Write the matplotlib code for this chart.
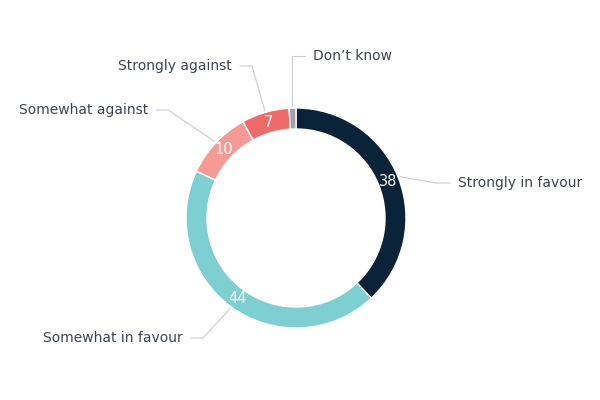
import numpy as np
import matplotlib.pyplot as plt

CATEGORIES = ["Strongly in favour", "Somewhat in favour", "Somewhat against",
              "Strongly against", "Don\u2019t know"]
VALUES = [38, 44, 10, 7, 1]
COLORS = ["#0b2339", "#7dcfd1", "#f59a95", "#ee6b6a", "#9aa3ab"]
# label anchor (x, y in pixel-like coords, y from top), alignment
LABEL_POS = [(458, 183, "left"), (183, 338, "right"), (148, 110, "right"),
             (232, 66, "right"), (313, 56, "left")]

CX, CY, R, W = 296, 218, 110, 21
H = 400

fig = plt.figure(figsize=(6, 4), dpi=100)
ax = fig.add_axes([0, 0, 1, 1])
ax.set_xlim(0, 600)
ax.set_ylim(0, H)
ax.set_aspect("equal")
ax.axis("off")

wedges, _ = ax.pie(VALUES, colors=COLORS, startangle=90, counterclock=False,
                   center=(CX, H - CY), radius=R,
                   wedgeprops=dict(width=W, edgecolor="white", linewidth=1))
ax.set_xlim(0, 600)
ax.set_ylim(0, H)

for w, val, cat, (lx, ly, ha) in zip(wedges, VALUES, CATEGORIES, LABEL_POS):
    ang = np.deg2rad((w.theta1 + w.theta2) / 2)
    if val >= 5:
        rr = R - W / 2
        ax.text(CX + rr * np.cos(ang), H - CY + rr * np.sin(ang), str(val),
                color="white", fontsize=10.5, ha="center", va="center")
    sx, sy = CX + (R + 2) * np.cos(ang), H - CY + (R + 2) * np.sin(ang)
    ex = lx - 8 if ha == "left" else lx + 8
    ey = H - ly
    if cat.startswith("Don"):
        ax.plot([sx, sx, ex], [sy, ey, ey], color="#c8ccd2", lw=0.8)
    else:
        mx = ex - 12 if ha == "right" else ex - 14
        mx = ex + 12 if ha == "right" else ex - 14
        ax.plot([sx, mx, ex], [sy, ey, ey], color="#c8ccd2", lw=0.8)
    ax.text(lx, H - ly, cat, ha=ha, va="center", fontsize=10, color="#3d4450")

fig.savefig("out.png", dpi=100)
